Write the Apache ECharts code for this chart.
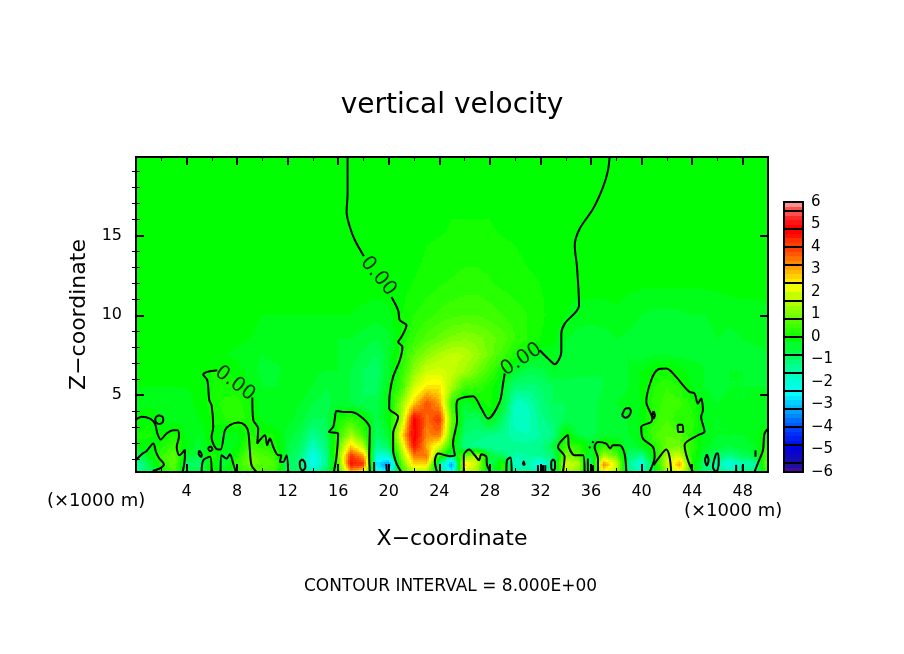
<!DOCTYPE html>
<html>
<head>
<meta charset="utf-8">
<title>vertical velocity</title>
<style>
html,body{margin:0;padding:0;background:#fff;}
#main{width:904px;height:654px;}
</style>
<script src="https://cdn.jsdelivr.net/npm/echarts@6/dist/echarts.min.js"></script>
</head>
<body>
<div id="main"></div>
<script>
// x nodes in km (x1000 m)
var xNodes = [0,1,2,3,4,5,6,7,8,9,10,11,12,13,14,15,16,17,18,19,20,21,22,23,24,25,26,27,28,29,30,31,32,33,34,35,36,37,38,39,40,41,42,43,44,45,46,47,48,49,50];
// z nodes in km, one row of velocityRows for each
var zNodes = [0.2,0.7,1.2,1.8,2.5,3.5,4.5,5.5,6.5,7.5,8.5,10,12,14,16,19.9];
// bottom row first
var velocityRows = [
  [-1.2,-.8,.1,.6,-.5,-.6,.1,-.2,.4,.5,.6,.5,-.6,-.8,-1.6,-.7,.5,3,2.4,-2,-2.4,.4,1.6,1.4,-.8,-2.4,1.8,1.4,-.6,.3,-1.4,-1.2,-1.6,-.8,1.5,1.2,-.8,2.4,1.4,-1,-1.6,-.2,1.3,2.2,.3,-.8,-1,-1.4,-1.1,-1,.8],
  [-1.5,-.6,.3,1,-.8,-.9,.1,-.5,.5,1,.9,.7,-.8,-1,-2.2,-1.2,.7,4.6,4.2,-2.6,-3.4,.8,2.8,2.8,-1.1,-3.4,2.8,1.7,-.8,.4,-1.8,-1.4,-2.2,-1,2,1.6,-1,3.4,2,-1.2,-2,-.3,1.8,3.2,.4,-1,-1.4,-2,-1.5,-1.4,1.2],
  [-.8,-.2,.5,.9,-.3,-.6,.3,-.4,.2,1,.8,.5,-.6,-1,-2.1,-1.2,1,4.2,3.2,-1.8,-1.8,1.3,3.4,3.6,.5,-.8,1,1.6,-.4,-.8,-1.4,-1.3,-1.2,-1,1.2,.9,-.6,1.6,.9,-.8,-1.2,.2,1.5,1.9,.3,-.5,-.8,-1.1,-.7,-.5,.9],
  [.1,-.2,.2,.6,-.1,-.4,.1,-.2,-.1,.6,.4,.2,-.5,-.8,-1.6,-1,.8,2.8,1.6,-1.2,-.7,1.8,4.6,3.1,2,.2,-1.1,-1.2,-1.3,-1.3,-1.2,-1.2,-1.2,-.5,.6,.4,-.2,.5,.1,-.5,-.2,.3,1,1.1,.4,-.2,-.4,-.5,-.4,-.3,.5],
  [.1,.2,-.1,.3,-.2,-.3,.1,-.2,-.2,.3,.2,.1,-.4,-.6,-1.2,-.8,.4,1.5,.6,-.8,-.4,2.5,5,3.4,3.6,.6,-.9,-1,-1.1,-1.2,-1.4,-1.5,-1.3,-1.1,.2,-.5,-.6,-.4,-.4,-.3,-.05,.7,.9,.8,.3,-.2,-.3,-.3,-.3,-.15,.15],
  [-.1,.05,-.1,-.2,-.2,-.1,.1,.3,.5,.2,-.2,-.3,-.2,-.4,-.7,-.7,.2,.5,.1,-.6,-.1,1.5,4.8,3.6,4.2,1,-.6,-.8,-.1,-.8,-1.7,-1.6,-1.2,-.9,-.7,-.7,-.6,-.4,-.4,-.3,-.05,.4,.7,.3,.4,-.2,-.3,-.3,-.25,-.3,-.3],
  [-.15,-.15,-.15,-.15,-.15,-.05,.2,.35,.4,.1,-.2,-.25,-.2,-.3,-.5,-.6,-.4,-.5,-.7,-.6,-.1,1.3,2.8,3.9,3.2,.5,-.4,0,.2,-.3,-1.6,-1.5,-1,-.7,-.7,-.7,-.6,-.4,-.3,-.2,-.1,.4,.6,.6,.2,-.2,-.3,-.2,-.3,-.3,-.25],
  [-.1,-.1,-.1,-.1,-.1,-.05,.1,.2,.2,-.1,-.3,-.3,-.2,-.15,-.3,-.5,-.4,-.5,-.7,-.8,-.1,.6,1.9,2.6,2.6,1.5,.6,.5,.2,-.3,-1,-1,-.9,-.7,-.6,-.6,-.6,-.5,-.4,-.3,-.05,.3,.5,.3,-.1,-.3,-.4,-.3,-.3,-.3,-.3],
  [0,0,0,0,0,0,.1,.15,0,-.2,-.35,-.35,-.25,-.2,-.25,-.3,-.3,-.5,-.7,-.85,-.35,.4,1.3,1.9,2,1.8,1.5,1.1,.6,.1,-.4,-.6,-.6,-.3,-.4,-.45,-.45,-.5,-.4,-.3,-.1,.1,.15,0,-.2,-.3,-.35,-.3,-.3,-.35,-.3],
  [-.05,-.05,-.05,-.05,-.05,-.05,-.1,-.1,-.15,-.25,-.3,-.25,-.25,-.2,-.2,-.25,-.3,-.4,-.55,-.7,-.35,.3,.9,1.3,1.6,1.8,1.7,1.4,1,.6,.2,-.1,-.3,-.2,-.35,-.45,-.4,-.45,-.4,-.3,-.4,-.3,-.3,-.35,-.35,-.35,-.3,-.3,-.4,-.4,-.3],
  [0,0,0,0,0,0,0,0,-.05,-.1,-.2,-.25,-.25,-.2,-.25,-.3,-.3,-.3,-.4,-.5,-.35,.1,.5,.8,1,1.2,1.3,1.2,1,.8,.5,.3,.1,-.05,-.3,-.4,-.45,-.4,-.3,-.35,-.45,-.5,-.45,-.4,-.4,-.35,-.3,-.35,-.3,-.25,-.25],
  [0,0,0,0,0,0,0,0,0,0,-.1,-.1,-.1,-.1,-.1,-.1,-.1,-.1,-.15,-.2,-.15,.1,.3,.42,.55,.65,.7,.7,.62,.5,.4,.3,.15,.02,-.1,-.2,-.2,-.2,-.15,-.2,-.3,-.35,-.35,-.35,-.3,-.3,-.25,-.25,-.2,-.2,-.15],
  [0,0,0,0,0,0,0,0,0,0,0,0,0,0,0,0,0,0,0,0,0,0,.12,.2,.28,.32,.38,.38,.32,.25,.2,.15,.1,0,0,0,0,0,0,-.05,-.05,-.05,-.05,-.05,-.05,-.05,-.05,0,0,0,0],
  [0,0,0,0,0,0,0,0,0,0,0,0,0,0,0,0,0,0,0,0,0,0,0,.12,.18,.2,.22,.22,.2,.18,.12,.05,0,0,0,0,0,0,0,0,0,0,0,0,0,0,0,0,0,0,0],
  [0,0,0,0,0,0,0,0,0,0,0,0,0,0,0,0,0,0,0,0,0,0,0,0,0,.1,.1,.1,.1,0,0,0,0,0,0,0,0,0,0,0,0,0,0,0,0,0,0,0,0,0,0],
  [0,0,0,0,0,0,0,0,0,0,0,0,0,0,0,0,0,0,0,0,0,0,0,0,0,0,0,0,0,0,0,0,0,0,0,0,0,0,0,0,0,0,0,0,0,0,0,0,0,0,0]
];
// zero contour, pairs of [x km, z km]
var contourPaths = [
  [[16.74,19.9],[16.74,17.6],[16.66,16.46],[16.92,15.52],[17.32,14.69],[18.03,13.69]],
  [[20.21,11.14],[20.74,10.31],[20.87,9.69],[21.4,9.37],[21,8.64],[20.74,8.33],[21.08,8.02],[20.87,7.19],[20.34,6.15],[20.08,5.11],[20.03,4.17],[20.74,3.65],[20.34,2.61],[20.34,1.57],[20.61,.73],[21,.2]],
  [[37.47,19.9],[37.34,19.06],[36.95,18.02],[36.16,16.66],[35.1,15.41],[34.71,14.37],[34.89,13.02],[35.05,10.62],[33.92,9.48],[33.65,8.85],[33.65,7.71],[33.13,6.94],[32.6,7.29],[31.94,7.81]],
  [[29.17,6.36],[29.04,5.73],[28.77,4.59],[27.85,3.54],[27.32,4.17],[26.66,4.94],[25.48,4.73],[25.35,4.27],[25.4,3.44],[25.08,1.98],[25.22,1.25],[24.82,1.19],[23.9,1.36],[23.64,.84],[23.82,.2]],
  [[0,3.48],[.45,3.65],[1.11,3.54],[1.5,3.23],[1.69,2.61],[1.95,2.23],[2.42,2.61],[2.95,2.81],[3.29,2.81],[3.4,2.4],[3.22,1.77],[3.43,1.25],[3.87,1.6],[3.87,1.15],[3.69,.2]],
  [[0,.94],[.45,1.31],[.84,1.52],[1.37,1.98],[1.58,1.46],[1.84,1.04],[2.21,.69],[1.9,.42],[1.32,.27]],
  [[1.84,3.75],[2.1,3.65],[2.16,3.48],[2.1,3.3],[1.84,3.2],[1.6,3.3],[1.52,3.48],[1.6,3.65],[1.84,3.75]],
  [[6.43,6.56],[5.64,6.46],[5.32,6.3],[5.64,5.94],[5.8,4.69],[5.98,4.38],[6.11,3.02],[5.98,2.4],[6.32,1.67],[6.69,1.6],[7.04,2.81],[7.43,3.13],[8.09,3.29],[8.62,3.13],[8.88,2.71],[9.01,1.56],[9.14,.63],[9.54,.2]],
  [[9.2,4.86],[9.28,3.44],[9.67,2.92],[9.59,1.98],[10.2,2.5],[10.38,1.88],[10.59,2.29],[10.91,1.67],[11.25,1.25],[11.5,1.25],[11.38,.83],[11.65,.83],[11.91,1.25],[12.04,.2]],
  [[5,1.55],[5.2,1.3],[5.15,1.15],[4.95,1.35],[5,1.55]],
  [[5.7,1.7],[5.9,1.8],[6.05,1.6],[5.85,1.5],[5.7,1.7]],
  [[5.19,.2],[5.32,.94],[5.85,1.15],[5.98,.2]],
  [[6.69,.2],[6.77,1.25],[7.17,1.04],[7.43,1.31],[7.69,.73],[7.9,.2]],
  [[13.15,1],[13.35,.8],[13.4,.5],[13.2,.3],[13,.45],[12.95,.8],[13.15,1]],
  [[15.65,.2],[15.86,1.15],[15.99,2.6],[15.26,2.71],[15.6,3.02],[15.73,3.54],[15.86,4.02],[16.39,3.96],[17.05,3.96],[17.97,3.54],[18.5,2.92],[18.45,1.15],[18.5,.2]],
  [[18.84,.83],[18.84,.2]],
  [[19.8,.7],[19.85,.2]],
  [[25.93,.2],[25.93,1.25],[26.35,1.6],[26.8,1.25],[27.14,.94],[27.32,1.31],[27.72,1.15],[27.77,.63],[28.03,.2]],
  [[29.3,.2],[29.35,.94],[29.62,1.11],[29.72,.2]],
  [[30.6,.65],[30.67,.85],[30.75,.65],[30.6,.65]],
  [[31.8,.63],[31.8,.2]],
  [[32.2,.63],[32.2,.2]],
  [[32.38,.63],[32.38,.2]],
  [[33,1],[33.15,.8],[33.15,.45],[33,.3],[32.85,.45],[32.85,.8],[33,1]],
  [[33.78,.2],[33.91,1.15],[33.38,1.77],[34.17,2.5],[34.25,1.77],[34.7,1.25],[35.36,1.25],[35.49,.2]],
  [[35.75,1.04],[35.75,.2]],
  [[36.15,.63],[36.15,.2]],
  [[36.1,2.02],[36.2,2.12]],
  [[35.84,1.7],[35.94,1.78]],
  [[36.55,.2],[36.55,1.04],[36.28,1.77],[36.55,2.08],[37.2,1.98],[37.52,1.67],[37.73,1.88],[38.26,1.88],[38.65,1.35],[38.79,.2]],
  [[40.63,.2],[41.03,1.15],[40.89,1.77],[40.1,2.29],[39.97,3.02],[40.76,3.33],[40.84,3.54],[40.37,4.59],[40.76,5.94],[41.29,6.61],[41.95,6.67],[42.74,6.15],[43.27,5.63],[43.79,5.21],[44.19,5.11],[44.45,4.48],[44.71,4.79],[44.85,4.06],[44.71,3.65],[44.98,2.71],[44.45,2.5],[43.4,1.88],[43.66,.94],[44.06,.2]],
  [[40.95,.63],[41.42,1.15],[41.95,1.6],[42.21,1.15],[42.34,.2]],
  [[38.45,3.75],[38.7,4.15],[39,4.2],[39.15,4],[39,3.7],[38.7,3.6],[38.45,3.75]],
  [[40.95,4],[41.05,3.75],[40.95,3.55],[40.85,3.75],[40.95,4]],
  [[42.85,3.15],[43.2,3.15],[43.3,2.7],[42.9,2.7],[42.85,3.15]],
  [[45.16,1.3],[45.3,.95],[45.16,.6],[45.02,.95],[45.16,1.3]],
  [[45.9,1.35],[45.64,.52],[45.9,.2],[46.1,.73],[46.06,1.35],[45.9,1.35]],
  [[47.48,.65],[47.48,.2]],
  [[48,.65],[48,.2]],
  [[49.01,1.56],[49.01,1.15]],
  [[50,2.9],[49.72,2.6],[49.6,1.56],[49.19,.73],[48.93,.2]]
];
// the 0.00 labels sitting in the contour gaps: x, z, angle
var contourLabels = [[19.16,12.44,-50],[30.49,7.23,33],[7.83,5.73,-37]];
var xTickLabels = [4,8,12,16,20,24,28,32,36,40,44,48];
var zTickLabels = [5,10,15];
var zMinorTicks = [1,2,3,4,6,7,8,9,11,12,13,14,16,17,18,19];
// colour bar boxes, contour interval is 0.8 on this scale
var barEdges = [-6,-5.6,-4.8,-4,-3.2,-2.4,-1.6,-.8,0,.8,1.6,2.4,3.2,4,4.8,5.6,6];
var colorStops = [
  [-6,'#7000a0'],[-5.6,'#2010a0'],[-4.8,'#0000e0'],[-4,'#0040ff'],[-3.2,'#00a0ff'],[-2.4,'#00ffff'],[-1.6,'#00ffc0'],[-.8,'#00ff60'],
  [0,'#00ff00'],[.8,'#50ff00'],[1.6,'#b0ff00'],[2.4,'#ffff00'],[3.2,'#ffa000'],[4,'#ff4000'],[4.8,'#ff0000'],[5.6,'#ff5050'],[6,'#ff9090']
];

var FONT = 'DejaVu Sans';
var SHADE = 0.2;   // colour steps of the fill
var colorCache = {};

function hexRgb(h){
  return [parseInt(h.substr(1,2),16),parseInt(h.substr(3,2),16),parseInt(h.substr(5,2),16)];
}
function shadeColor(v){
  var q = Math.round(v/SHADE);
  if(colorCache[q]) return colorCache[q];
  var t = Math.max(-6,Math.min(6,q*SHADE)), i = 0;
  while(i < colorStops.length-2 && t > colorStops[i+1][0]) i++;
  var a = colorStops[i], b = colorStops[i+1], k = (t-a[0])/(b[0]-a[0]);
  var ca = hexRgb(a[1]), cb = hexRgb(b[1]);
  var c = 'rgb('+Math.round(ca[0]+(cb[0]-ca[0])*k)+','+Math.round(ca[1]+(cb[1]-ca[1])*k)+','+Math.round(ca[2]+(cb[2]-ca[2])*k)+')';
  colorCache[q] = c;
  return c;
}

// one item per grid cell; the fill is shaded across the cell from its four corner values
var cells = [];
for(var r=0;r<zNodes.length-1;r++){
  for(var c=0;c<xNodes.length-1;c++){
    cells.push([xNodes[c],zNodes[r],xNodes[c+1],zNodes[r+1],velocityRows[r][c],velocityRows[r][c+1],velocityRows[r+1][c],velocityRows[r+1][c+1]]);
  }
}

function renderCell(params,api){
  var p0 = api.coord([api.value(0),api.value(1)]);
  var p1 = api.coord([api.value(2),api.value(3)]);
  var v00 = api.value(4), v10 = api.value(5), v01 = api.value(6), v11 = api.value(7);
  var left = Math.round(p0[0]), right = Math.round(p1[0]), bottom = Math.round(p0[1]), top = Math.round(p1[1]);
  var kids = [];
  for(var py=top;py<bottom;py+=2){
    for(var px=left;px<right;px+=2){
      var u = (px+1-p0[0])/(p1[0]-p0[0]), w = (p0[1]-py-1)/(p0[1]-p1[1]);
      var v = v00*(1-u)*(1-w)+v10*u*(1-w)+v01*(1-u)*w+v11*u*w;
      kids.push({type:'rect',shape:{x:px,y:py,width:Math.min(2,right-px),height:Math.min(2,bottom-py)},style:{fill:shadeColor(v)},silent:true});
    }
  }
  return {type:'group',children:kids};
}

function renderBarBox(params,api){
  var lo = api.value(0), hi = api.value(1), x0 = api.coord([0,lo])[0], x1 = api.coord([1,lo])[0];
  var kids = [], n = Math.max(1,Math.round((hi-lo)/SHADE));
  for(var i=0;i<n;i++){
    var a = Math.round(api.coord([0,lo+(hi-lo)*i/n])[1]), b = Math.round(api.coord([0,lo+(hi-lo)*(i+1)/n])[1]);
    kids.push({type:'rect',shape:{x:x0,y:b,width:x1-x0,height:a-b},style:{fill:shadeColor(lo+(hi-lo)*(i+.5)/n)}});
  }
  var yLo = Math.round(api.coord([0,lo])[1]), yHi = Math.round(api.coord([0,hi])[1]);
  kids.push({type:'rect',shape:{x:x0,y:yHi,width:x1-x0,height:yLo-yHi},style:{fill:'none',stroke:'#000',lineWidth:2},z2:5});
  return {type:'group',children:kids};
}

var axisCommon = {axisLine:{show:true,onZero:false,lineStyle:{color:'#000',width:2}},splitLine:{show:false},z:5};
function merge(a,b){ return Object.assign({},a,b); }

var series = [{
  type:'custom',
  coordinateSystem:'cartesian2d',
  xAxisIndex:0,yAxisIndex:0,
  renderItem:renderCell,
  data:cells,
  silent:true,
  animation:false,
  z:1
},{
  type:'custom',
  coordinateSystem:'cartesian2d',
  xAxisIndex:2,yAxisIndex:4,
  renderItem:renderBarBox,
  data:barEdges.slice(0,-1).map(function(e,i){ return [e,barEdges[i+1]]; }),
  encode:{y:[0,1]},
  silent:true,
  animation:false
}];
contourPaths.forEach(function(path){
  series.push({type:'line',xAxisIndex:0,yAxisIndex:0,data:path,showSymbol:false,symbol:'none',smooth:.3,silent:true,animation:false,
    lineStyle:{color:'#000',width:2},z:3});
});
series.push({
  type:'scatter',xAxisIndex:0,yAxisIndex:0,symbolSize:1,silent:true,animation:false,z:4,itemStyle:{color:'transparent'},
  data:contourLabels.map(function(l){
    return {value:[l[0],l[1]],label:{show:true,formatter:'0.00',position:'inside',rotate:l[2],color:'#000',fontFamily:FONT,fontSize:20}};
  })
});

var chart = echarts.init(document.getElementById('main'),null,{renderer:'canvas'});
chart.setOption({
  backgroundColor:'#fff',
  animation:false,
  title:{text:'vertical velocity',left:'center',top:87,textStyle:{fontFamily:FONT,fontSize:28,fontWeight:'normal',color:'#000'}},
  grid:[
    {left:136,top:157,width:632,height:315},
    {left:784,top:202,width:19,height:270}
  ],
  xAxis:[
    merge(axisCommon,{type:'value',gridIndex:0,position:'bottom',min:0,max:50,interval:4,
      axisTick:{show:true,inside:true,length:8,lineStyle:{color:'#000',width:2}},
      minorTick:{show:true,splitNumber:2,length:4,lineStyle:{color:'#000',width:1}},
      axisLabel:{show:true,color:'#000',fontFamily:FONT,fontSize:16,margin:12,customValues:xTickLabels},
      name:'X\u2212coordinate',nameLocation:'middle',nameGap:56,nameTextStyle:{color:'#000',fontFamily:FONT,fontSize:22}}),
    merge(axisCommon,{type:'value',gridIndex:0,position:'top',min:0,max:50,interval:4,
      axisTick:{show:true,inside:true,length:8,lineStyle:{color:'#000',width:2}},
      minorTick:{show:true,splitNumber:2,length:4,lineStyle:{color:'#000',width:1}},
      axisLabel:{show:false}}),
    {type:'value',gridIndex:1,min:0,max:1,show:false}
  ],
  yAxis:[
    merge(axisCommon,{type:'value',gridIndex:0,position:'left',min:.2,max:19.9,
      axisTick:{show:true,inside:true,length:8,customValues:zTickLabels,lineStyle:{color:'#000',width:2}},
      axisLabel:{show:true,color:'#000',fontFamily:FONT,fontSize:16,margin:14,customValues:zTickLabels},
      name:'Z\u2212coordinate',nameLocation:'middle',nameGap:40,nameRotate:90,nameTextStyle:{color:'#000',fontFamily:FONT,fontSize:22}}),
    merge(axisCommon,{type:'value',gridIndex:0,position:'left',min:.2,max:19.9,axisLine:{show:false},
      axisTick:{show:true,inside:true,length:4,customValues:zMinorTicks,lineStyle:{color:'#000',width:1}},
      axisLabel:{show:false}}),
    merge(axisCommon,{type:'value',gridIndex:0,position:'right',min:.2,max:19.9,
      axisTick:{show:true,inside:true,length:8,customValues:zTickLabels,lineStyle:{color:'#000',width:2}},
      axisLabel:{show:false}}),
    merge(axisCommon,{type:'value',gridIndex:0,position:'right',min:.2,max:19.9,axisLine:{show:false},
      axisTick:{show:true,inside:true,length:4,customValues:zMinorTicks,lineStyle:{color:'#000',width:1}},
      axisLabel:{show:false}}),
    {type:'value',gridIndex:1,position:'right',min:-6,max:6,interval:1,
      axisLine:{show:false},axisTick:{show:false},splitLine:{show:false},
      axisLabel:{show:true,color:'#000',fontFamily:FONT,fontSize:15,margin:8,align:'left',
        formatter:function(v){ return String(v).replace('-','\u2212'); }}}
  ],
  graphic:[
    {type:'text',left:47,top:492,silent:true,style:{text:'(\u00d71000 m)',fill:'#000',font:'18px "DejaVu Sans"'}},
    {type:'text',left:684,top:502,silent:true,style:{text:'(\u00d71000 m)',fill:'#000',font:'18px "DejaVu Sans"'}},
    {type:'text',left:304,top:578,silent:true,style:{text:'CONTOUR INTERVAL = 8.000E+00',fill:'#000',font:'17px "DejaVu Sans"'}}
  ],
  series:series
});
</script>
</body>
</html>
